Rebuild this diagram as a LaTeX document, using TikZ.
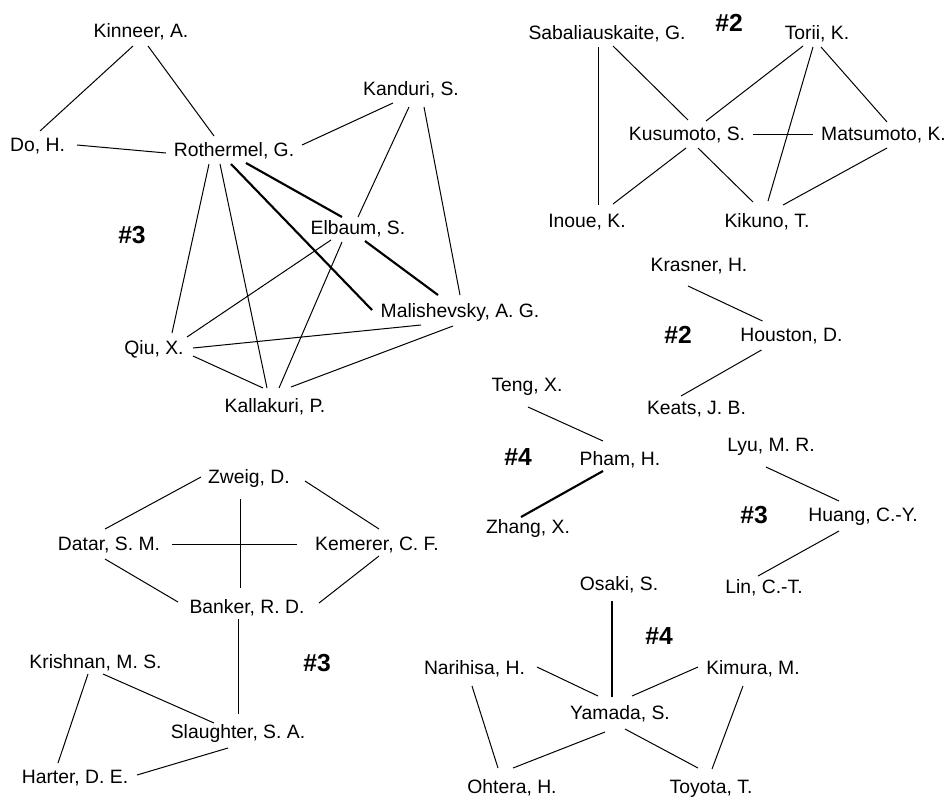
\documentclass[tikz,border=0pt]{standalone}
\usepackage{fontspec}
\setmainfont{Liberation Sans}
\usetikzlibrary{calc}
\newcommand\lnk[5][]{\draw[#1] ($(#2)+(#3)$) -- ($(#4)+(#5)$);}
\tikzset{
  au/.style={inner sep=0pt, text height=10.4pt, text depth=0pt, font=\fontsize{14.5}{17}\selectfont},
  grp/.style={inner sep=0pt, text height=13.2pt, text depth=0pt, font=\bfseries\fontsize{18.5}{22}\selectfont},
  heavy/.style={line width=1.6pt}
}
\begin{document}
\begin{tikzpicture}[x=0.75pt, y=-0.75pt, line width=0.75pt]
\useasboundingbox (0,0) rectangle (948,797);
% --- top-left cluster
\node[au] (kin) at (141,31) {Kinneer, A.};
\node[au] (do)  at (37.5,145) {Do, H.};
\node[au] (rot) at (234,150) {Rothermel, G.};
\node[au] (kan) at (411,89) {Kanduri, S.};
\node[au] (elb) at (358,228) {Elbaum, S.};
\node[au] (mal) at (460,311) {Malishevsky, A. G.};
\node[au] (qiu) at (154,348) {Qiu, X.};
\node[au] (kal) at (275,406) {Kallakuri, P.};
\node[grp] (g1) at (132,235) {\#3};
\lnk{kin}{-8,15}{do}{2.5,-14}
\lnk{kin}{7,15}{rot}{-20,-14}
\lnk{do}{39.5,0}{rot}{-68,3}
\lnk{rot}{68,-5}{kan}{-18,14}
\lnk{kan}{-2,18}{elb}{0,-11}
\lnk{kan}{13,18}{mal}{0,-16}
\lnk[heavy]{rot}{12,13}{elb}{-16,-11}
\lnk[heavy]{rot}{-3,14}{mal}{-88,-1}
\lnk[heavy]{elb}{7,13}{mal}{-22,-16}
\lnk{rot}{-25,14}{qiu}{18,-15}
\lnk{rot}{-14,14}{kal}{-8,-18}
\lnk{elb}{-27,12}{qiu}{33,-11}
\lnk{elb}{-16,14}{kal}{4,-18}
\lnk{qiu}{39,0}{mal}{-39,14}
\lnk{qiu}{39,8}{kal}{-12,-18}
\lnk{mal}{-7,15}{kal}{16,-19}
% --- top-right cluster
\node[au] (sab) at (607,33) {Sabaliauskaite, G.};
\node[grp] (g2) at (729,23) {\#2};
\node[au] (tor) at (817,33) {Torii, K.};
\node[au] (kus) at (687,134) {Kusumoto, S.};
\node[au] (mat) at (883.5,134) {Matsumoto, K.};
\node[au] (ino) at (587,221) {Inoue, K.};
\node[au] (kik) at (767,221) {Kikuno, T.};
\lnk{sab}{-9,14}{ino}{11,-16}
\lnk{sab}{6,13}{kus}{1,-14}
\lnk{tor}{-14,13}{kus}{19,-13}
\lnk{tor}{-4,14}{kik}{1,-20}
\lnk{tor}{4,14}{mat}{3.5,-12}
\lnk{kus}{66,0}{mat}{-70.5,0}
\lnk{kus}{-1,14}{ino}{26,-17}
\lnk{kus}{11,14}{kik}{-14,-19}
\lnk{mat}{3.5,14}{kik}{16,-16}
% --- Krasner / Houston / Keats
\node[au] (kra) at (699,265) {Krasner, H.};
\node[grp] (g3) at (678,335) {\#2};
\node[au] (hou) at (791.5,335) {Houston, D.};
\node[au] (kea) at (696.5,408) {Keats, J. B.};
\lnk{kra}{-11,21}{hou}{-29,-14}
\lnk{hou}{-30,15}{kea}{-15.5,-12}
% --- Teng / Pham / Zhang
\node[au] (ten) at (527,385) {Teng, X.};
\node[grp] (g4) at (518,457) {\#4};
\node[au] (pha) at (620,459) {Pham, H.};
\node[au] (zha) at (528,527) {Zhang, X.};
\lnk{ten}{1,22}{pha}{-17,-18}
\lnk[heavy]{pha}{-17,12}{zha}{-7,-10}
% --- Lyu / Huang / Lin
\node[au] (lyu) at (771,445) {Lyu, M. R.};
\node[grp] (g5) at (754,515) {\#3};
\node[au] (hua) at (863,515) {Huang, C.-Y.};
\node[au] (lin) at (764,587) {Lin, C.-T.};
\lnk{lyu}{-5,22}{hua}{-24,-14}
\lnk{hua}{-24,16}{lin}{-6,-11}
% --- Yamada cluster
\node[au] (osa) at (619,584) {Osaki, S.};
\node[grp] (g6) at (659,636) {\#4};
\node[au] (nar) at (474.5,668) {Narihisa, H.};
\node[au] (kim) at (753,668) {Kimura, M.};
\node[au] (yam) at (620,713) {Yamada, S.};
\node[au] (oht) at (512,787) {Ohtera, H.};
\node[au] (toy) at (711,787) {Toyota, T.};
\lnk[heavy]{osa}{-7,17}{yam}{-8,-16}
\lnk{nar}{62.5,-1}{yam}{-22,-17}
\lnk{kim}{-55,-1}{yam}{12,-17}
\lnk{nar}{-2.5,18}{oht}{-14,-19}
\lnk{yam}{-15,19}{oht}{1,-19}
\lnk{yam}{5,16}{toy}{-13,-19}
\lnk{kim}{-10,18}{toy}{1,-18}
% --- bottom-left cluster
\node[au] (zwe) at (249,477) {Zweig, D.};
\node[au] (dat) at (109,544) {Datar, S. M.};
\node[au] (kem) at (377,544) {Kemerer, C. F.};
\node[au] (ban) at (247,607) {Banker, R. D.};
\node[au] (kri) at (95.5,662) {Krishnan, M. S.};
\node[grp] (g7) at (317,663) {\#3};
\node[au] (sla) at (238,732) {Slaughter, S. A.};
\node[au] (har) at (75,777) {Harter, D. E.};
\lnk{zwe}{-48,0}{dat}{-4,-15}
\lnk{zwe}{56,4}{kem}{2,-15}
\lnk{zwe}{-9,22}{ban}{-7,-19}
\lnk{dat}{63,0}{kem}{-80,0}
\lnk{dat}{-4,15}{ban}{-69,-5}
\lnk{kem}{2,12}{ban}{72,-4}
\lnk{ban}{-9,12}{sla}{0,-18}
\lnk{kri}{7.5,12}{sla}{-24,-9}
\lnk{kri}{-7.5,12}{har}{-17,-14}
\lnk{sla}{-10,16}{har}{62,-2}
\end{tikzpicture}
\end{document}
